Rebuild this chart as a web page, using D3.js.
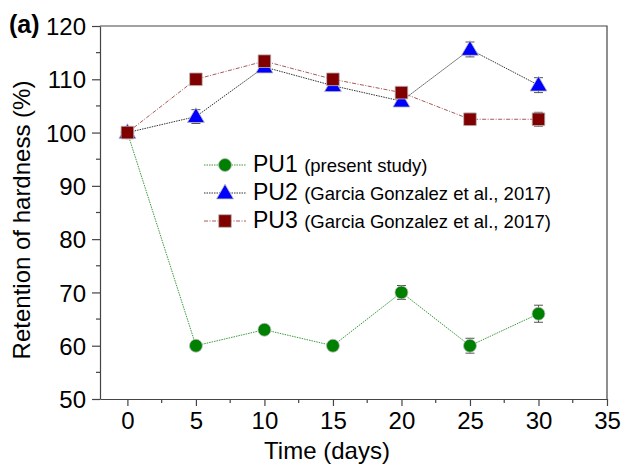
<!DOCTYPE html>
<html>
<head>
<meta charset="utf-8">
<script src="https://cdn.jsdelivr.net/npm/d3@7/dist/d3.min.js"></script>
<style>
  body { margin: 0; background: #fff; }
  svg text { font-family: Arial, "Liberation Sans", sans-serif; fill: #000; }
</style>
</head>
<body>
<div id="chart"></div>
<script>
// data
var days = [0, 5, 10, 15, 20, 25, 30];
var pu1 = [100, 60, 63, 60, 70, 60, 66];
var pu1Err = [0.8, 0.8, 0.8, 0.8, 1.3, 1.4, 1.6];
var pu2 = [100, 103, 112.3, 108.8, 105.9, 115.6, 108.9];
var pu2Err = [0.8, 1.3, 1, 1, 1, 1.4, 1.4];
var pu3 = [100, 110, 113.4, 110, 107.5, 102.5, 102.5];
var pu3Err = [0.8, 0.8, 1, 0.8, 0.8, 1.1, 1.3];

var xTicks = [0, 5, 10, 15, 20, 25, 30, 35];
var yTicks = [50, 60, 70, 80, 90, 100, 110, 120];
var seriesNames = ["PU1", "PU2", "PU3"];
var seriesNotes = ["(present study)", "(Garcia Gonzalez et al., 2017)", "(Garcia Gonzalez et al., 2017)"];

(function() {
  var width = 623, height = 465;
  var margin = { top: 26, left: 100, right: 16, bottom: 66 };

  var svg = d3.select("#chart")
    .append("svg")
    .attr("width", width)
    .attr("height", height);

  var xPositionScale = d3.scaleLinear().domain([-2, 35]).range([margin.left, width - margin.right]);
  var yPositionScale = d3.scaleLinear().domain([50, 120]).range([height - margin.bottom, margin.top]);

  var series = [
    { name: seriesNames[0], note: seriesNotes[0], values: pu1, err: pu1Err, color: "#008000", line: "#3a9a3a", dash: "1.5,1", shape: "circle" },
    { name: seriesNames[1], note: seriesNotes[1], values: pu2, err: pu2Err, color: "#0000ff", line: "#333", dash: "1.5,1", shape: "triangle" },
    { name: seriesNames[2], note: seriesNotes[2], values: pu3, err: pu3Err, color: "#800000", line: "#a85a58", dash: "4,1.5,1,1.5", shape: "square" }
  ];

  function symbolFor(shape) {
    if (shape == "circle") return d3.symbol().type(d3.symbolCircle).size(Math.PI * 42);
    if (shape == "triangle") return d3.symbol().type(d3.symbolTriangle).size(125);
    return d3.symbol().type(d3.symbolSquare).size(160);
  }

  // frame (top and right lines)
  var x0 = xPositionScale.range()[0], x1 = xPositionScale.range()[1];
  var y0 = yPositionScale.range()[0], y1 = yPositionScale.range()[1];
  svg.append("path")
    .attr("d", "M" + x0 + "," + y1 + "H" + x1 + "V" + y0)
    .attr("fill", "none")
    .attr("stroke", "#444")
    .attr("stroke-width", 1.2);

  // minor ticks
  var xMinor = d3.range(-2, 35.01, 0.5).filter(function(v) { return Math.abs(v % 5) == 2.5; });
  var yMinor = d3.range(55, 120, 10);

  var xAxis = d3.axisBottom(xPositionScale).tickValues(xTicks).tickSize(7).tickPadding(6).tickSizeOuter(0);
  var gx = svg.append("g")
    .attr("class", "x-axis")
    .attr("transform", "translate(0," + y0 + ")")
    .call(xAxis);
  gx.selectAll(".tick text").style("font-size", "24px");
  gx.selectAll("line").attr("stroke", "#444").attr("stroke-width", 1.2);
  gx.select(".domain").attr("stroke", "#444").attr("stroke-width", 1.2);
  gx.selectAll(".minor")
    .data(xMinor)
    .enter().append("line")
    .attr("x1", function(d) { return xPositionScale(d); })
    .attr("x2", function(d) { return xPositionScale(d); })
    .attr("y1", 0).attr("y2", 4)
    .attr("stroke", "#444").attr("stroke-width", 1.2);

  var yAxis = d3.axisLeft(yPositionScale).tickValues(yTicks).tickSize(8).tickPadding(6).tickSizeOuter(0);
  var gy = svg.append("g")
    .attr("class", "y-axis")
    .attr("transform", "translate(" + x0 + ",0)")
    .call(yAxis);
  gy.selectAll(".tick text").style("font-size", "24px").attr("dy", "0.36em");
  gy.selectAll("line").attr("stroke", "#444").attr("stroke-width", 1.2);
  gy.select(".domain").attr("stroke", "#444").attr("stroke-width", 1.2);
  gy.selectAll(".minor")
    .data(yMinor)
    .enter().append("line")
    .attr("y1", function(d) { return yPositionScale(d); })
    .attr("y2", function(d) { return yPositionScale(d); })
    .attr("x1", 0).attr("x2", -4)
    .attr("stroke", "#444").attr("stroke-width", 1.2);

  // axis titles
  svg.append("text")
    .attr("x", 327)
    .attr("y", 459)
    .style("text-anchor", "middle")
    .style("font-size", "24px")
    .text("Time (days)");

  svg.append("text")
    .attr("transform", "translate(30,220) rotate(-90)")
    .style("text-anchor", "middle")
    .style("font-size", "24px")
    .text("Retention of hardness (%)");

  svg.append("text")
    .attr("x", 9)
    .attr("y", 33)
    .style("font-size", "25px")
    .style("font-weight", "bold")
    .text("(a)");

  var line = d3.line()
    .x(function(d, i) { return xPositionScale(days[i]); })
    .y(function(d) { return yPositionScale(d); });

  // connecting lines
  series.forEach(function(s) {
    svg.append("path")
      .datum(s.values)
      .attr("d", line)
      .attr("fill", "none")
      .attr("stroke", s.line)
      .attr("stroke-width", 1)
      .attr("stroke-dasharray", s.dash);
  });

  // error bars and markers
  series.forEach(function(s) {
    var g = svg.append("g");
    var pts = s.values.map(function(v, i) { return { x: days[i], y: v, e: s.err[i] }; });

    var eb = g.selectAll(".err").data(pts).enter().append("g").attr("class", "err");
    eb.append("line")
      .attr("x1", function(d) { return xPositionScale(d.x); })
      .attr("x2", function(d) { return xPositionScale(d.x); })
      .attr("y1", function(d) { return yPositionScale(d.y - d.e); })
      .attr("y2", function(d) { return yPositionScale(d.y + d.e); });
    [-1, 1].forEach(function(sign) {
      eb.append("line")
        .attr("x1", function(d) { return xPositionScale(d.x) - 4.5; })
        .attr("x2", function(d) { return xPositionScale(d.x) + 4.5; })
        .attr("y1", function(d) { return yPositionScale(d.y + sign * d.e); })
        .attr("y2", function(d) { return yPositionScale(d.y + sign * d.e); });
    });
    eb.selectAll("line").attr("stroke", "#555").attr("stroke-width", 1);

    g.selectAll(".pt").data(pts).enter().append("path")
      .attr("class", "pt")
      .attr("d", symbolFor(s.shape))
      .attr("transform", function(d) {
        return "translate(" + xPositionScale(d.x) + "," + (yPositionScale(d.y) + (s.shape == "triangle" ? 1 : 0)) + ")";
      })
      .attr("fill", s.color)
      .attr("stroke", "#bbb")
      .attr("stroke-width", 0.8);
  });

  // legend
  var legend = svg.append("g").attr("transform", "translate(204,165)");
  series.forEach(function(s, i) {
    var row = legend.append("g").attr("transform", "translate(0," + (i * 28) + ")");
    row.append("line")
      .attr("x1", 0).attr("x2", 42)
      .attr("y1", 0).attr("y2", 0)
      .attr("stroke", s.line)
      .attr("stroke-width", 1)
      .attr("stroke-dasharray", s.dash);
    row.append("path")
      .attr("d", symbolFor(s.shape))
      .attr("transform", "translate(21," + (s.shape == "triangle" ? 1 : 0) + ")")
      .attr("fill", s.color)
      .attr("stroke", "#bbb")
      .attr("stroke-width", 0.8);
    var t = row.append("text")
      .attr("x", 49)
      .attr("y", 7);
    t.append("tspan").style("font-size", "23px").text(s.name + " ");
    t.append("tspan").style("font-size", "18.5px").text(s.note);
  });
})();
</script>
</body>
</html>
